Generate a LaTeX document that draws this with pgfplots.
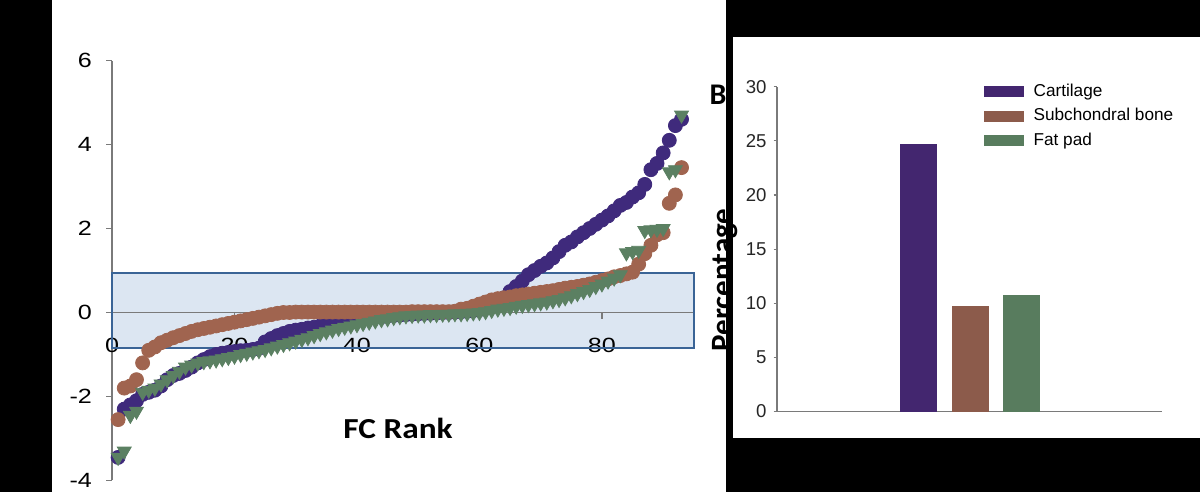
\documentclass[border=0pt]{standalone}
\usepackage{fontspec}
\setmainfont{Liberation Sans}
\newfontfamily\calibri{Carlito}
\usepackage{pgfplots}
\pgfplotsset{compat=1.18}

\definecolor{cPurple}{HTML}{3F2A7C}
\definecolor{cBrown}{HTML}{A0644F}
\definecolor{cGreen}{HTML}{5B8062}
\definecolor{bPurple}{HTML}{43266F}
\definecolor{bBrown}{HTML}{8C5B4B}
\definecolor{bGreen}{HTML}{587C5E}
\definecolor{boxFill}{HTML}{DCE6F2}
\definecolor{boxLine}{HTML}{3A6496}
\definecolor{axGray}{HTML}{7A7A7A}

% the left panel is stretched sideways in the original
\newcommand\sx[1]{\scalebox{1.22}[1]{#1}}

\begin{document}
\begin{tikzpicture}[x=1pt,y=1pt]
\useasboundingbox (0,0) rectangle (600,246);
\fill[black] (0,0) rectangle (600,246);
\fill[white] (26,0) rectangle (363,246);
\fill[white] (366.5,27) rectangle (600,227.5);

% shaded band behind everything of the left chart
\begin{axis}[at={(56pt,5.75pt)}, anchor=south west, scale only axis,
  width=290.9pt, height=210pt, xmin=0, xmax=95, ymin=-4, ymax=6, hide axis]
\addplot[fill=boxFill, draw=none] coordinates {(0,-0.85) (95,-0.85) (95,0.94) (0,0.94)} -- cycle;
\end{axis}

% left chart: ranked fold changes
\begin{axis}[at={(56pt,5.75pt)}, anchor=south west, scale only axis,
  width=290.9pt, height=210pt, xmin=0, xmax=95, ymin=-4, ymax=6,
  clip=false,
  axis x line*=middle, axis y line*=left,
  hide obscured x ticks=false,
  axis line style={axGray, line width=0.6pt},
  tick style={axGray, line width=0.6pt},
  tick align=outside, major tick length=3pt,
  xtick={0,20,40,60,80}, xticklabels={\sx{0},\sx{20},\sx{40},\sx{60},\sx{80}},
  ytick={-4,-2,0,2,4,6}, yticklabels={\sx{-4},\sx{-2},\sx{0},\sx{2},\sx{4},\sx{6}},
  tick label style={font=\fontsize{10.3}{12}\selectfont},
  xticklabel style={yshift=-6.5pt},
  yticklabel style={xshift=-3.5pt},
]
\addplot[draw=boxLine, line width=1.25pt, fill=none] coordinates {(0,-0.85) (95,-0.85) (95,0.94) (0,0.94)} -- cycle;

\addplot[only marks, mark=*, mark size=3.5pt, color=cPurple] coordinates {
(1,-3.45)(2,-2.3)(3,-2.2)(4,-2.1)(5,-1.95)(6,-1.9)(7,-1.85)(8,-1.75)(9,-1.6)(10,-1.5)
(11,-1.45)(12,-1.38)(13,-1.3)(14,-1.2)(15,-1.12)(16,-1.05)(17,-1.0)(18,-0.97)(19,-0.95)(20,-0.93)
(21,-0.91)(22,-0.9)(23,-0.88)(24,-0.85)(25,-0.7)(26,-0.62)(27,-0.55)(28,-0.5)(29,-0.45)(30,-0.42)
(31,-0.4)(32,-0.37)(33,-0.35)(34,-0.32)(35,-0.3)(36,-0.27)(37,-0.25)(38,-0.22)(39,-0.2)(40,-0.17)
(41,-0.15)(42,-0.13)(43,-0.11)(44,-0.1)(45,-0.08)(46,-0.07)(47,-0.06)(48,-0.05)(49,-0.04)(50,-0.03)
(51,-0.02)(52,-0.02)(53,-0.01)(54,0)(55,0)(56,0.01)(57,0.02)(58,0.03)(59,0.05)(60,0.07)
(61,0.1)(62,0.15)(63,0.22)(64,0.35)(65,0.5)(66,0.62)(67,0.75)(68,0.9)(69,1.0)(70,1.1)
(71,1.18)(72,1.3)(73,1.45)(74,1.6)(75,1.68)(76,1.8)(77,1.9)(78,2.0)(79,2.1)(80,2.2)
(81,2.3)(82,2.42)(83,2.55)(84,2.62)(85,2.75)(86,2.85)(87,3.05)(88,3.4)(89,3.55)(90,3.8)
(91,4.1)(92,4.45)(93,4.6)};

\addplot[only marks, mark=*, mark size=3.5pt, color=cBrown] coordinates {
(1,-2.55)(2,-1.8)(3,-1.75)(4,-1.6)(5,-1.2)(6,-0.9)(7,-0.82)(8,-0.72)(9,-0.66)(10,-0.6)
(11,-0.55)(12,-0.5)(13,-0.45)(14,-0.41)(15,-0.38)(16,-0.35)(17,-0.32)(18,-0.29)(19,-0.26)(20,-0.23)
(21,-0.2)(22,-0.17)(23,-0.14)(24,-0.11)(25,-0.08)(26,-0.05)(27,-0.02)(28,0)(29,0)(30,0.01)
(31,0.01)(32,0.01)(33,0.01)(34,0.01)(35,0.01)(36,0.01)(37,0.01)(38,0.01)(39,0.01)(40,0.01)
(41,0.01)(42,0.01)(43,0.01)(44,0.01)(45,0.01)(46,0.01)(47,0.01)(48,0.01)(49,0.02)(50,0.02)
(51,0.02)(52,0.02)(53,0.02)(54,0.02)(55,0.02)(56,0.03)(57,0.08)(58,0.1)(59,0.15)(60,0.2)
(61,0.25)(62,0.3)(63,0.33)(64,0.35)(65,0.37)(66,0.4)(67,0.42)(68,0.44)(69,0.46)(70,0.48)
(71,0.5)(72,0.52)(73,0.55)(74,0.58)(75,0.6)(76,0.62)(77,0.65)(78,0.68)(79,0.72)(80,0.76)
(81,0.8)(82,0.85)(83,0.88)(84,0.92)(85,0.96)(86,1.15)(87,1.4)(88,1.6)(89,1.85)(90,1.9)
(91,2.6)(92,2.8)(93,3.45)};

\addplot[only marks, mark=triangle*, mark size=4pt, color=cGreen,
  every mark/.append style={rotate=180}] coordinates {
(1,-3.45)(2,-3.3)(3,-2.45)(4,-2.35)(5,-1.9)(6,-1.85)(7,-1.8)(8,-1.7)(9,-1.6)(10,-1.5)
(11,-1.4)(12,-1.3)(13,-1.25)(14,-1.2)(15,-1.17)(16,-1.15)(17,-1.13)(18,-1.1)(19,-1.07)(20,-1.04)
(21,-1.0)(22,-0.97)(23,-0.94)(24,-0.91)(25,-0.88)(26,-0.84)(27,-0.8)(28,-0.76)(29,-0.72)(30,-0.68)
(31,-0.64)(32,-0.6)(33,-0.55)(34,-0.5)(35,-0.46)(36,-0.42)(37,-0.38)(38,-0.35)(39,-0.32)(40,-0.29)
(41,-0.26)(42,-0.23)(43,-0.2)(44,-0.17)(45,-0.15)(46,-0.12)(47,-0.1)(48,-0.08)(49,-0.07)(50,-0.06)
(51,-0.06)(52,-0.05)(53,-0.05)(54,-0.04)(55,-0.04)(56,-0.03)(57,-0.03)(58,-0.02)(59,-0.01)(60,0)
(61,0.02)(62,0.05)(63,0.08)(64,0.1)(65,0.12)(66,0.15)(67,0.17)(68,0.19)(69,0.21)(70,0.23)
(71,0.25)(72,0.28)(73,0.31)(74,0.35)(75,0.4)(76,0.45)(77,0.5)(78,0.55)(79,0.62)(80,0.68)
(81,0.75)(82,0.82)(83,0.9)(84,1.42)(85,1.45)(86,1.48)(87,1.95)(88,1.97)(89,1.98)(90,2.0)
(91,3.35)(92,3.4)(93,4.7)};
\end{axis}

\node[font=\calibri\bfseries\fontsize{14.5}{16}\selectfont] at (199,32) {\scalebox{1.15}[1]{FC Rank}};

% right chart: percentages per tissue
\begin{axis}[at={(388.5pt,40.2pt)}, anchor=south west, scale only axis,
  width=192.5pt, height=162.45pt, xmin=0, xmax=1, ymin=0, ymax=30,
  ybar=7.2pt, bar width=18.5pt,
  axis x line*=bottom, axis y line*=left,
  axis line style={axGray, line width=0.6pt},
  tick style={axGray, line width=0.6pt},
  tick align=outside, major tick length=1.7pt,
  xtick=\empty,
  ytick={0,5,10,15,20,25,30}, yticklabels={0,5,10,15,20,25,30},
  tick label style={font=\fontsize{9.3}{11}\selectfont, text=black!85},
  legend style={draw=none, fill=none, at={(0.52,1.035)}, anchor=north west,
    font=\fontsize{8.6}{10}\selectfont, row sep=0.6pt,
    nodes={inner xsep=5pt}},
  legend cell align=left,
  legend image code/.code={\fill[#1] (0pt,-2.7pt) rectangle (20pt,2.7pt);},
]
\addplot[fill=bPurple, draw=none] coordinates {(0.502,24.75)};
\addplot[fill=bBrown, draw=none] coordinates {(0.502,9.75)};
\addplot[fill=bGreen, draw=none] coordinates {(0.502,10.8)};
\legend{Cartilage, Subchondral bone, Fat pad}
\end{axis}

\node[font=\calibri\bfseries\fontsize{15.5}{17}\selectfont, rotate=90] at (362.5,106) {Percentage};
\node[font=\calibri\bfseries\fontsize{15}{17}\selectfont] at (359,198.5) {B};
\end{tikzpicture}
\end{document}
